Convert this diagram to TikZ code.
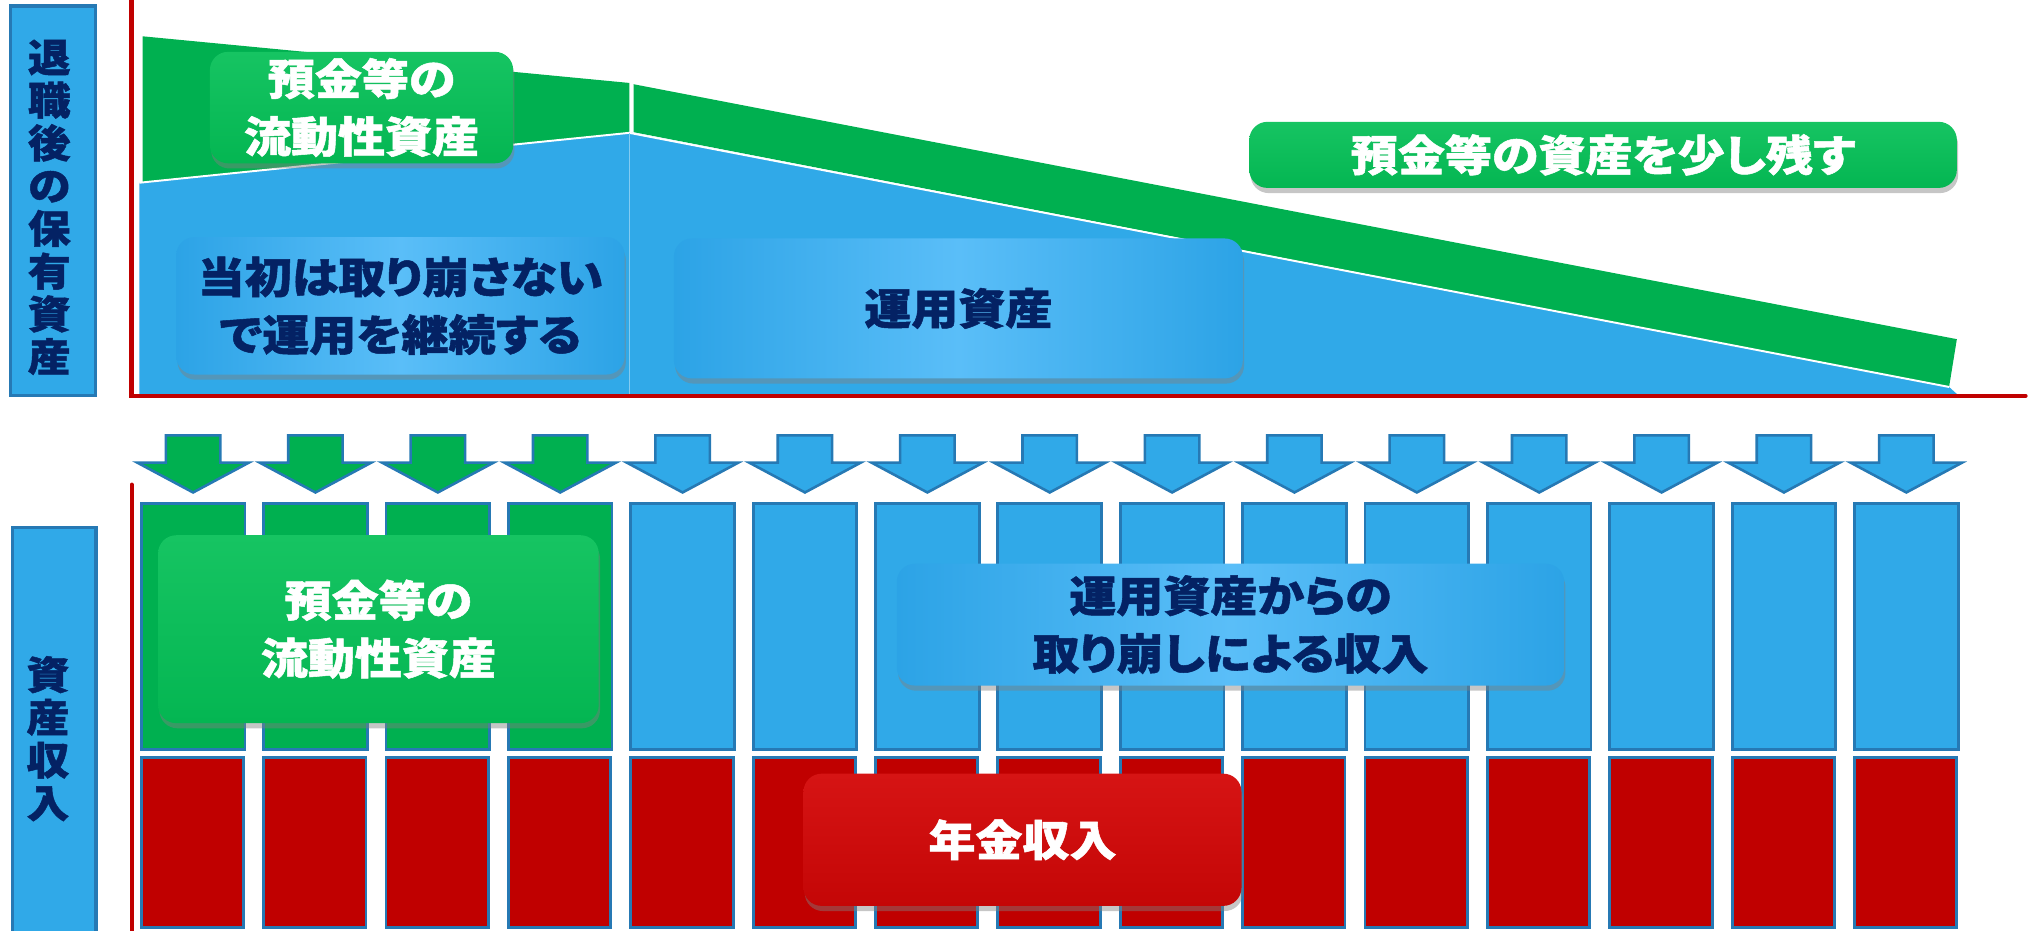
\documentclass[tikz,border=0pt]{standalone}
\usepackage{fontspec}
\setmainfont[FakeStretch=1.1,RawFeature=+palt,BoldFeatures={FakeBold=1.2}]{Noto Sans CJK JP}
\usetikzlibrary{shadows}
\definecolor{areablue}{RGB}{48,169,232}
\definecolor{areagreen}{RGB}{0,176,80}
\definecolor{barred}{RGB}{192,0,0}
\definecolor{edgeblue}{RGB}{38,121,180}
\definecolor{navy}{RGB}{4,34,100}
\definecolor{lblueedge}{RGB}{44,163,230}
\definecolor{lbluemid}{RGB}{90,190,248}
\definecolor{lgreentop}{RGB}{22,196,98}
\definecolor{lgreenbot}{RGB}{4,182,82}
\definecolor{lredtop}{RGB}{214,20,20}
\definecolor{lredbot}{RGB}{196,6,6}

\begin{document}
\begin{tikzpicture}[x=1pt,y=-1pt,
  lbl/.style={rounded corners=14pt, inner sep=0pt, align=center,
    font=\fontsize{33}{44.5}\selectfont\bfseries,
    drop shadow={opacity=0.45, shadow xshift=1pt, shadow yshift=-4pt}},
  bluelbl/.style={lbl, left color=lblueedge, right color=lblueedge, middle color=lbluemid, text=navy},
  greenlbl/.style={lbl, top color=lgreentop, bottom color=lgreenbot, text=white},
  redlbl/.style={lbl, top color=lredtop, bottom color=lredbot, text=white},
  sidebox/.style={draw=edgeblue, line width=2.5pt, fill=areablue},
  sidetext/.style={align=center, inner sep=0pt, text=navy, font=\fontsize{30}{33}\selectfont\bfseries},
  bar/.style={draw=edgeblue, line width=2.2pt},
  downarrow/.style={draw=edgeblue, line width=2pt, line join=miter}]

\useasboundingbox (0,0) rectangle (1568,718.4);

% holdings after retirement
\fill[areagreen] (110,28) -- (485.6,64) -- (485.6,102.5) -- (110,141) -- cycle;
\fill[areagreen] (489,65) -- (1510,261.7) -- (1504,298.6) -- (489,102) -- cycle;
\fill[areablue] (107.5,141) -- (485.6,102.5) -- (485.6,304) -- (107.5,304) -- cycle;
\fill[areablue] (485.6,102) -- (1504,298.6) -- (1510,304) -- (485.6,304) -- cycle;
\draw[white, line width=1.5pt] (107.5,141) -- (485.6,102.5) -- (1504,298.6);
\draw[white, line width=1.5pt] (487.3,62) -- (487.3,102);
\draw[white!40!areablue, line width=0.8pt] (485.6,103) -- (485.6,304);

\draw[barred, line width=3.3pt, line cap=round] (101.5,-5) -- (101.5,305.5) -- (1563,305.5);

\draw[sidebox] (8,4.6) rectangle (73.4,305);
\node[sidetext] (held) at (38,160) {退\\職\\後\\の\\保\\有\\資\\産};

\node[greenlbl, minimum width=234pt, minimum height=86pt] (liquid) at (279,83) {預金等の\\流動性資産};
\node[bluelbl, minimum width=346pt, minimum height=106pt] (keep) at (309,236) {当初は取り崩さない\\で運用を継続する};
\node[bluelbl, minimum width=439pt, minimum height=108pt] (invest) at (739.5,238) {運用資産};
\node[greenlbl, minimum width=546pt, minimum height=51pt] (remain) at (1237,119.5) {預金等の資産を少し残す};

% income
\draw[sidebox] (9.7,407) rectangle (74,725);
\node[sidetext] (income) at (37,570) {資\\産\\収\\入};

\draw[barred, line width=3.3pt, line cap=round] (101.6,374) -- (101.6,725);

\foreach \i in {0,...,14} {
  \pgfmathsetmacro\xl{109+94.43*\i}
  \pgfmathsetmacro\cx{\xl+40}
  \ifnum\i<4 \def\colfill{areagreen}\else\def\colfill{areablue}\fi
  \draw[downarrow, fill=\colfill] (\cx-21,336) -- (\cx+21,336) -- (\cx+21,357) -- (\cx+43,357)
    -- (\cx,380) -- (\cx-43,357) -- (\cx-21,357) -- cycle;
  \draw[bar, fill=\colfill] (\xl,388.5) rectangle (\xl+80,578.5);
  \draw[bar, fill=barred] (\xl,584.5) rectangle (\xl+79,715.5);
}

\node[greenlbl, minimum width=340pt, minimum height=145pt] (liquid2) at (292,485.5) {預金等の\\流動性資産};
\node[bluelbl, minimum width=515pt, minimum height=94pt] (withdraw) at (949.5,482) {運用資産からの\\取り崩しによる収入};
\node[redlbl, minimum width=338pt, minimum height=102pt] (pension) at (789,648) {年金収入};

\end{tikzpicture}
\end{document}
